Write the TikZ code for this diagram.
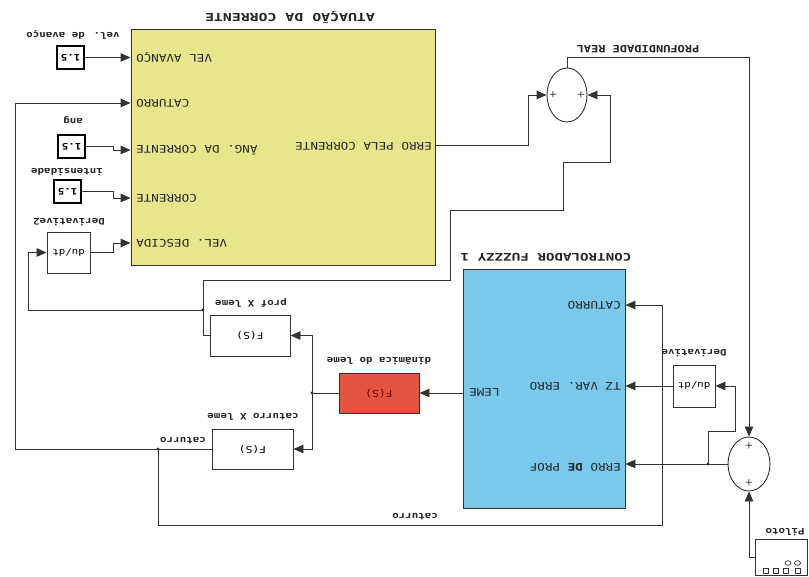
\documentclass[tikz,border=0pt]{standalone}
\usepackage{fontspec}
\usepackage{graphicx}
\setmainfont{DejaVu Sans}
\newfontfamily\monoA[FakeStretch=1.2]{DejaVu Sans Mono}
\newfontfamily\monoT[FakeStretch=1.35]{DejaVu Sans Mono}
\usetikzlibrary{arrows.meta,shapes.geometric}
\definecolor{ln}{RGB}{50,50,50}
\definecolor{yel}{RGB}{232,229,140}
\definecolor{blu}{RGB}{122,200,234}
\definecolor{redb}{RGB}{228,82,64}
\tikzset{
 wire/.style={draw=ln, line width=0.9pt},
 arr/.style={wire, -{Triangle[length=10pt,width=8.5pt]}},
 blk/.style={draw=ln, line width=0.9pt, fill=white, inner sep=0pt},
 cst/.style={draw=black, line width=1.5pt, fill=white, inner sep=0pt, minimum width=27pt, minimum height=23pt, font=\monoA\bfseries\fontsize{9}{10}\selectfont},
 sumb/.style={ellipse, draw=ln, line width=0.9pt, fill=white, inner sep=0pt},
 txt/.style={rotate=180, inner sep=0pt, text=black!85},
 caps/.style={txt, font=\monoA\fontsize{10.5}{11}\selectfont},
 small/.style={txt, font=\monoA\bfseries\fontsize{9}{10}\selectfont},
 ttl/.style={txt, font=\monoT\bfseries\fontsize{10.5}{11}\selectfont},
 plus/.style={txt, font=\sffamily\bfseries\fontsize{9}{10}\selectfont},
 jdot/.style={circle, fill=ln, inner sep=0pt, minimum size=3.4pt},
}
\begin{document}
\begin{tikzpicture}[x=1pt,y=-1pt]
\useasboundingbox (0,0) rectangle (809,577);
\fill[white] (0,0) rectangle (809,577);

% main blocks
\node[blk, fill=yel, minimum width=304pt, minimum height=236pt] (yel) at (283,147) {};
\node[blk, fill=blu, minimum width=162pt, minimum height=239pt] (fz) at (544,388.5) {};
\node[ttl, font=\monoT\bfseries\fontsize{11}{12}\selectfont] (tyel) at (290,18) {ATUAÇÃO DA CORRENTE};
\node[ttl] (tfz) at (546,257) {CONTROLADOR FUZZZY 1};

% constants and derivatives
\node[cst] (c1) at (70.5,57.5) {\rotatebox{180}{1.5}};
\node[cst] (c2) at (71.5,146.5) {\rotatebox{180}{1.5}};
\node[cst] (c3) at (67.5,191.5) {\rotatebox{180}{1.5}};
\node[blk, minimum width=43pt, minimum height=41pt, font=\monoA\fontsize{9}{10}\selectfont] (d2) at (68.5,252.5) {\rotatebox{180}{du/dt}};
\node[blk, minimum width=42pt, minimum height=42pt, font=\monoA\fontsize{9}{10}\selectfont] (d1) at (694,386) {\rotatebox{180}{du/dt}};

% transfer functions
\node[blk, minimum width=80pt, minimum height=41pt, font=\monoA\fontsize{9.5}{10}\selectfont] (fp) at (250,335.5) {\rotatebox{180}{F(S)}};
\node[blk, minimum width=81pt, minimum height=40pt, font=\monoA\fontsize{9.5}{10}\selectfont] (fc) at (252.5,449) {\rotatebox{180}{F(S)}};
\node[blk, fill=redb, minimum width=80pt, minimum height=40pt, text=red!45!black, font=\monoA\fontsize{9.5}{10}\selectfont] (fr) at (379,393) {\rotatebox{180}{F(S)}};

% sums
\node[sumb, minimum width=40pt, minimum height=54pt] (s1) at (567,95) {};
\node[sumb, minimum width=42pt, minimum height=54pt] (s2) at (749,464) {};
\node[plus] (p1) at (553,95) {+};
\node[plus] (p2) at (581,95) {+};
\node[plus] (p3) at (749,446) {+};
\node[plus] (p4) at (749,483) {+};

% Piloto
\node[blk, minimum width=52pt, minimum height=36pt] (pl) at (781,557) {};
\foreach \cx in {765.5,775.5,785.5,797.5}
  \draw[ln, line width=0.7pt] (\cx-2.5,568.5) rectangle (\cx+2.5,573.5);
\draw[ln, line width=0.7pt] (788,563) ellipse (3pt and 2.3pt);
\draw[ln, line width=0.7pt] (797.5,563) ellipse (3pt and 2.3pt);

% junctions
\coordinate (jcat) at (158,449);
\coordinate (jprof) at (203,310);
\coordinate (jr) at (312,393);
\coordinate (jd) at (708,464);

% yellow inputs
\draw[arr] (c1.east) -- (c1.east -| yel.west);
\draw[arr] (c2.east) -| (113,150) -- (yel.west |- 0,150);
\draw[arr] (c3.east) -| (113,198) -- (yel.west |- 0,198);
\draw[arr] (d2.east) -| (113,243) -- (yel.west |- 0,243);
\draw[arr] (fc.west) -- (15,449) -- (15,103) -- (yel.west |- 0,103);

% yellow output to sum
\draw[arr] (yel.east |- 0,145) -| (528,95) -- (s1.west);
% prof X leme feedback
\draw[arr] (fp.west) -| (203,280) -- (450,280) -- (450,210) -- (563,210) -- (563,162) -- (610,162) -- (610,95) -- (s1.east);
\draw[arr] (jprof) -- (28,310) -- (28,252.5) -- (d2.west);
% sum output
\draw[arr] (s1.north) -- (567,57) -| (s2.north);

% fuzzy
\draw[arr] (fz.west |- fr.east) -- (fr.east);
\draw[wire] (fr.west) -- (jr);
\draw[arr] (jr) |- (fp.east);
\draw[arr] (jr) |- (fc.east);
\draw[arr] (jcat) -- (158,525) -- (662,525) -- (662,305) -- (fz.east |- 0,305);
\draw[arr] (d1.west) -- (d1.west -| fz.east);
\draw[arr] (s2.west) -- (s2.west -| fz.east);
\draw[arr] (jd) -- (708,431) -- (735,431) -- (735,386) -- (d1.east);
\draw[arr] (pl.west) -| (s2.south);

\node[jdot] at (jcat) {};
\node[jdot] at (jprof) {};
\node[jdot] at (jr) {};
\node[jdot] at (jd) {};

% port labels yellow
\node[caps, anchor=east] (l1) at (136,57) {VEL AVANÇO};
\node[caps, anchor=east] (l2) at (136,103) {CATURRO};
\node[caps, anchor=east] (l3) at (136,150) {ÂNG. DA CORRENTE};
\node[caps, anchor=east] (l4) at (136,198) {CORRENTE};
\node[caps, anchor=east] (l5) at (136,243) {VEL. DESCIDA};
\node[caps, anchor=west] (l6) at (432,146) {ERRO PELA CORRENTE};
% port labels fuzzy
\node[caps, anchor=west] (l7) at (621,305) {CATURRO};
\node[caps, anchor=west] (l8) at (621,386) {TZ VAR. ERRO};
\node[caps, anchor=west] (l9) at (621,467) {ERRO {\bfseries DE} PROF};
\node[caps, anchor=east] (l10) at (469,392) {LEME};

% other labels
\node[small] (t1) at (73,35) {vel. de avanço};
\node[small] (t2) at (73,120) {ang};
\node[small] (t3) at (67,172) {intensidade};
\node[small] (t4) at (69,222) {Derivative2};
\node[small] (t5) at (251,303) {prof X leme};
\node[small] (t6) at (253,417) {caturro X leme};
\node[small] (t7) at (379,361) {dinâmica do leme};
\node[small] (t8) at (183,441) {caturro};
\node[small] (t9) at (415,517) {caturro};
\node[small] (t10) at (694,353) {Derivative};
\node[small] (t11) at (785,532) {Piloto};
\node[ttl, font=\monoA\bfseries\fontsize{10}{11}\selectfont] (t12) at (638,49) {PROFUNDIDADE REAL};
\end{tikzpicture}
\end{document}
